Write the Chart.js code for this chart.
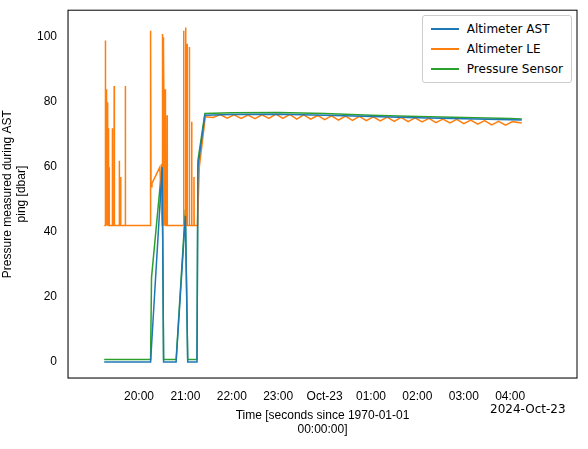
<!DOCTYPE html>
<html>
<head>
<meta charset="utf-8">
<script src="https://cdn.jsdelivr.net/npm/chart.js@4/dist/chart.umd.min.js"></script>
<style>
  body { margin: 0; background: #fff; font-family: "DejaVu Sans", sans-serif; }
  #wrap { position: relative; width: 588px; height: 449px; }
  #legend { position: absolute; right: 16px; top: 15px; background: #fff; border: 1px solid #ccc; border-radius: 3px; padding: 3px 8px; font-size: 12px; }
  #legend div { display: flex; align-items: center; height: 20px; }
  #legend span.l { display: inline-block; width: 28px; height: 2px; margin-right: 8px; }
  #off { position: absolute; left: 490px; top: 402px; font-size: 12px; }
</style>
</head>
<body>
<div id="wrap">
  <canvas id="myChart" width="588" height="449"></canvas>
  <div id="legend">
    <div><span class="l" style="background:#1f77b4"></span>Altimeter AST</div>
    <div><span class="l" style="background:#ff7f0e"></span>Altimeter LE</div>
    <div><span class="l" style="background:#2ca02c"></span>Pressure Sensor</div>
  </div>
  <div id="off">2024-Oct-23</div>
</div>
<script>
// time in hours since 2024-10-22 00:00
const tickHours = [20, 21, 22, 23, 24, 25, 26, 27, 28];
const tickLabels = ['20:00', '21:00', '22:00', '23:00', 'Oct-23', '01:00', '02:00', '03:00', '04:00'];

const astTime = [19.25, 20.25, 20.27, 20.5, 20.53, 20.8, 21.0, 21.05, 21.25, 21.27, 21.42, 22, 23, 24, 25, 26, 27, 28, 28.25];
const astValue = [0, 0, 5, 60, 0, 0, 45, 0, 0, 60, 76, 76.2, 76.3, 76, 75.6, 75.2, 74.9, 74.6, 74.5];

const psTime = [19.25, 20.25, 20.27, 20.5, 20.53, 20.8, 21.0, 21.05, 21.25, 21.27, 21.42, 22, 23, 24, 25, 26, 27, 28, 28.25];
const psValue = [0.8, 0.8, 26, 61, 0.8, 0.8, 47, 0.8, 0.8, 62, 76.5, 76.7, 76.8, 76.5, 76, 75.6, 75.3, 75, 74.8];

const leTime = [19.25, 19.27, 19.275, 19.28, 19.29, 19.295, 19.3, 19.31, 19.315, 19.32, 19.33, 19.335, 19.34, 19.35, 19.355, 19.36,
  19.42, 19.425, 19.43, 19.46, 19.465, 19.47, 19.57, 19.575, 19.58, 19.6, 19.605, 19.61, 19.7, 19.705, 19.71,
  20.24, 20.245, 20.25, 20.255, 20.26, 20.28, 20.45, 20.5, 20.505, 20.51, 20.52, 20.525, 20.53, 20.56, 20.565, 20.57, 20.6, 20.605, 20.61,
  20.95, 20.96, 20.965, 20.97, 21.0, 21.005, 21.01, 21.03, 21.035, 21.04, 21.08, 21.085, 21.09, 21.13, 21.135, 21.14, 21.18, 21.185, 21.19, 21.26, 21.3, 21.43,
  21.6, 21.75, 21.9, 22.05, 22.2, 22.35, 22.5, 22.65, 22.8, 22.95, 23.1, 23.25, 23.4, 23.55, 23.7, 23.85, 24.0, 24.15, 24.3, 24.45, 24.6, 24.75, 24.9,
  25.05, 25.2, 25.35, 25.5, 25.65, 25.8, 25.95, 26.1, 26.25, 26.4, 26.55, 26.7, 26.85, 27.0, 27.15, 27.3, 27.45, 27.6, 27.75, 27.9, 28.05, 28.25];
const leValue = [42, 42, 99, 42, 84, 42, 82, 42, 80, 42, 76, 42, 72, 42, 60, 42,
  42, 72, 42, 42, 85, 42, 42, 62, 42, 42, 57, 42, 42, 85, 42,
  42, 102, 42, 100, 54, 55, 60, 42, 101, 42, 100, 42, 97, 42, 84, 42, 42, 76, 42,
  42, 42, 102, 42, 42, 103, 42, 42, 98, 42, 42, 97, 42, 42, 74, 42, 42, 57, 42, 42, 60, 75.5,
  75.3, 76.2, 75.1, 76.1, 75.0, 76.0, 74.9, 76.1, 75.0, 76.3, 75.0, 76.2, 74.8, 76.1, 74.8, 75.9, 74.6, 75.8, 74.5, 75.7, 74.4, 75.6, 74.3,
  75.5, 74.2, 75.4, 74.1, 75.3, 74.0, 75.2, 73.9, 75.0, 73.7, 74.8, 73.6, 74.7, 73.4, 74.5, 73.2, 74.3, 73.0, 74.1, 72.9, 74.0, 73.6];

const toXY = (t, v) => t.map((x, i) => ({ x: x, y: v[i] }));

const frame = {
  id: 'frame',
  afterDraw(chart) {
    const a = chart.chartArea, c = chart.ctx;
    c.save();
    c.strokeStyle = '#000';
    c.lineWidth = 1;
    c.strokeRect(a.left, a.top, a.right - a.left, a.bottom - a.top);
    c.restore();
  }
};

const ctx = document.getElementById('myChart').getContext('2d');
new Chart(ctx, {
  type: 'line',
  data: {
    datasets: [
      { label: 'Altimeter AST', data: toXY(astTime, astValue), borderColor: '#1f77b4', borderWidth: 1.5, pointRadius: 0 },
      { label: 'Altimeter LE', data: toXY(leTime, leValue), borderColor: '#ff7f0e', borderWidth: 1.5, pointRadius: 0 },
      { label: 'Pressure Sensor', data: toXY(psTime, psValue), borderColor: '#2ca02c', borderWidth: 1.5, pointRadius: 0 },
    ],
  },
  options: {
    responsive: false,
    animation: false,
    layout: { padding: { top: 10, right: 11, left: 0, bottom: 12 } },
    plugins: { legend: { display: false }, tooltip: { enabled: false } },
    scales: {
      x: {
        type: 'linear', min: 18.47, max: 29.44,
        grid: { display: false },
        afterBuildTicks: s => { s.ticks = tickHours.map(v => ({ value: v })); },
        afterFit: s => { s.height = 59; },
        ticks: { color: '#000', font: { size: 12 }, maxRotation: 0, autoSkip: false,
          callback: v => tickLabels[tickHours.indexOf(v)] },
        title: { display: true, text: ['Time [seconds since 1970-01-01', '00:00:00]'], color: '#000', font: { size: 12 }, padding: 0 },
      },
      y: {
        min: -4.9, max: 108.3,
        grid: { display: false },
        afterBuildTicks: s => { s.ticks = [0, 20, 40, 60, 80, 100].map(v => ({ value: v })); },
        afterFit: s => { s.width = 68; },
        ticks: { color: '#000', font: { size: 12 } },
        title: { display: true, text: ['Pressure measured during AST', 'ping [dbar]'], color: '#000', font: { size: 12 }, padding: 0 },
      },
    },
  },
  plugins: [frame],
});
</script>
</body>
</html>
